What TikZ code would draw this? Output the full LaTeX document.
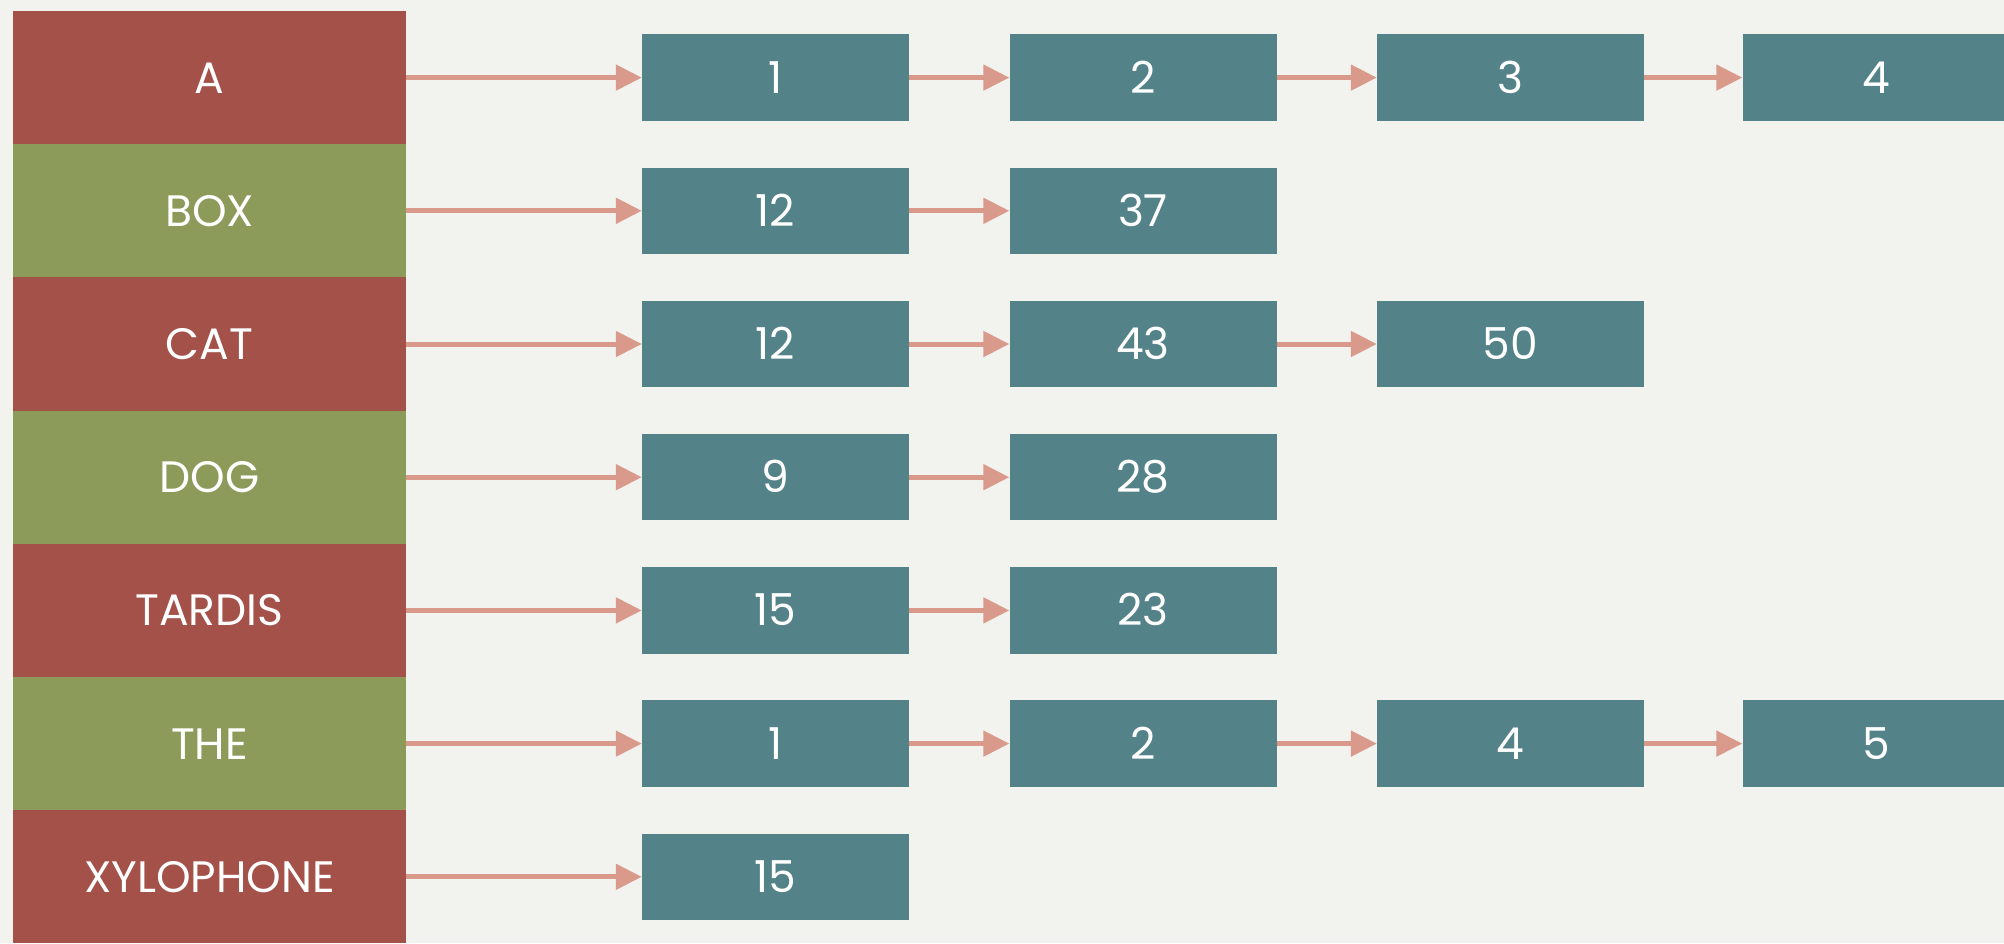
\documentclass[tikz,border=0pt]{standalone}
\usepackage{fontspec}
\setmainfont{Poppins}
\usetikzlibrary{arrows.meta}
\definecolor{bgc}{HTML}{F2F2EE}
\definecolor{keyred}{HTML}{A4514A}
\definecolor{keygreen}{HTML}{8C9B59}
\definecolor{tealbox}{HTML}{538288}
\definecolor{arrowc}{HTML}{D99A8C}
\tikzset{
  keycell/.style={minimum width=393pt, minimum height=133.2pt, inner sep=0pt, draw=none,
    text=white, font=\fontsize{44}{44}\selectfont, text height=31pt, text depth=0pt},
  redkey/.style={keycell, fill=keyred},
  greenkey/.style={keycell, fill=keygreen},
  postbox/.style={minimum width=267pt, minimum height=86.5pt, inner sep=0pt, fill=tealbox,
    text=white, font=\fontsize{44}{44}\selectfont, text height=31pt, text depth=0pt},
  link/.style={draw=arrowc, line width=5pt, -{Triangle[length=26pt,width=25pt]}}
}
\begin{document}
\begin{tikzpicture}[x=1pt,y=-1pt]
\fill[bgc] (0,0) rectangle (2004,943);
\useasboundingbox (0,0) rectangle (2004,943);
% keys
\node[redkey]   (kA) at (209.5,77.6)  {A};
\node[greenkey] (kB) at (209.5,210.8) {BOX};
\node[redkey]   (kC) at (209.5,344.0) {CAT};
\node[greenkey] (kD) at (209.5,477.2) {DOG};
\node[redkey]   (kT) at (209.5,610.4) {TARDIS};
\node[greenkey] (kH) at (209.5,743.6) {THE};
\node[redkey]   (kX) at (209.5,876.8) {XYLOPHONE};
% postings
\node[postbox] (a1) at (775.5,77.6) {1};
\node[postbox] (a2) at (1143,77.6) {2};
\node[postbox] (a3) at (1510.5,77.6) {3};
\node[postbox] (a4) at (1876,77.6) {4};
\node[postbox] (b1) at (775.5,210.8) {12};
\node[postbox] (b2) at (1143,210.8) {37};
\node[postbox] (c1) at (775.5,344.0) {12};
\node[postbox] (c2) at (1143,344.0) {43};
\node[postbox] (c3) at (1510.5,344.0) {50};
\node[postbox] (d1) at (775.5,477.2) {9};
\node[postbox] (d2) at (1143,477.2) {28};
\node[postbox] (t1) at (775.5,610.4) {15};
\node[postbox] (t2) at (1143,610.4) {23};
\node[postbox] (h1) at (775.5,743.6) {1};
\node[postbox] (h2) at (1143,743.6) {2};
\node[postbox] (h3) at (1510.5,743.6) {4};
\node[postbox] (h4) at (1876,743.6) {5};
\node[postbox] (x1) at (775.5,876.8) {15};
% links
\draw[link] (kA.east) -- (a1.west);
\draw[link] (a1.east) -- (a2.west);
\draw[link] (a2.east) -- (a3.west);
\draw[link] (a3.east) -- (a4.west);
\draw[link] (kB.east) -- (b1.west);
\draw[link] (b1.east) -- (b2.west);
\draw[link] (kC.east) -- (c1.west);
\draw[link] (c1.east) -- (c2.west);
\draw[link] (c2.east) -- (c3.west);
\draw[link] (kD.east) -- (d1.west);
\draw[link] (d1.east) -- (d2.west);
\draw[link] (kT.east) -- (t1.west);
\draw[link] (t1.east) -- (t2.west);
\draw[link] (kH.east) -- (h1.west);
\draw[link] (h1.east) -- (h2.west);
\draw[link] (h2.east) -- (h3.west);
\draw[link] (h3.east) -- (h4.west);
\draw[link] (kX.east) -- (x1.west);
\end{tikzpicture}
\end{document}
